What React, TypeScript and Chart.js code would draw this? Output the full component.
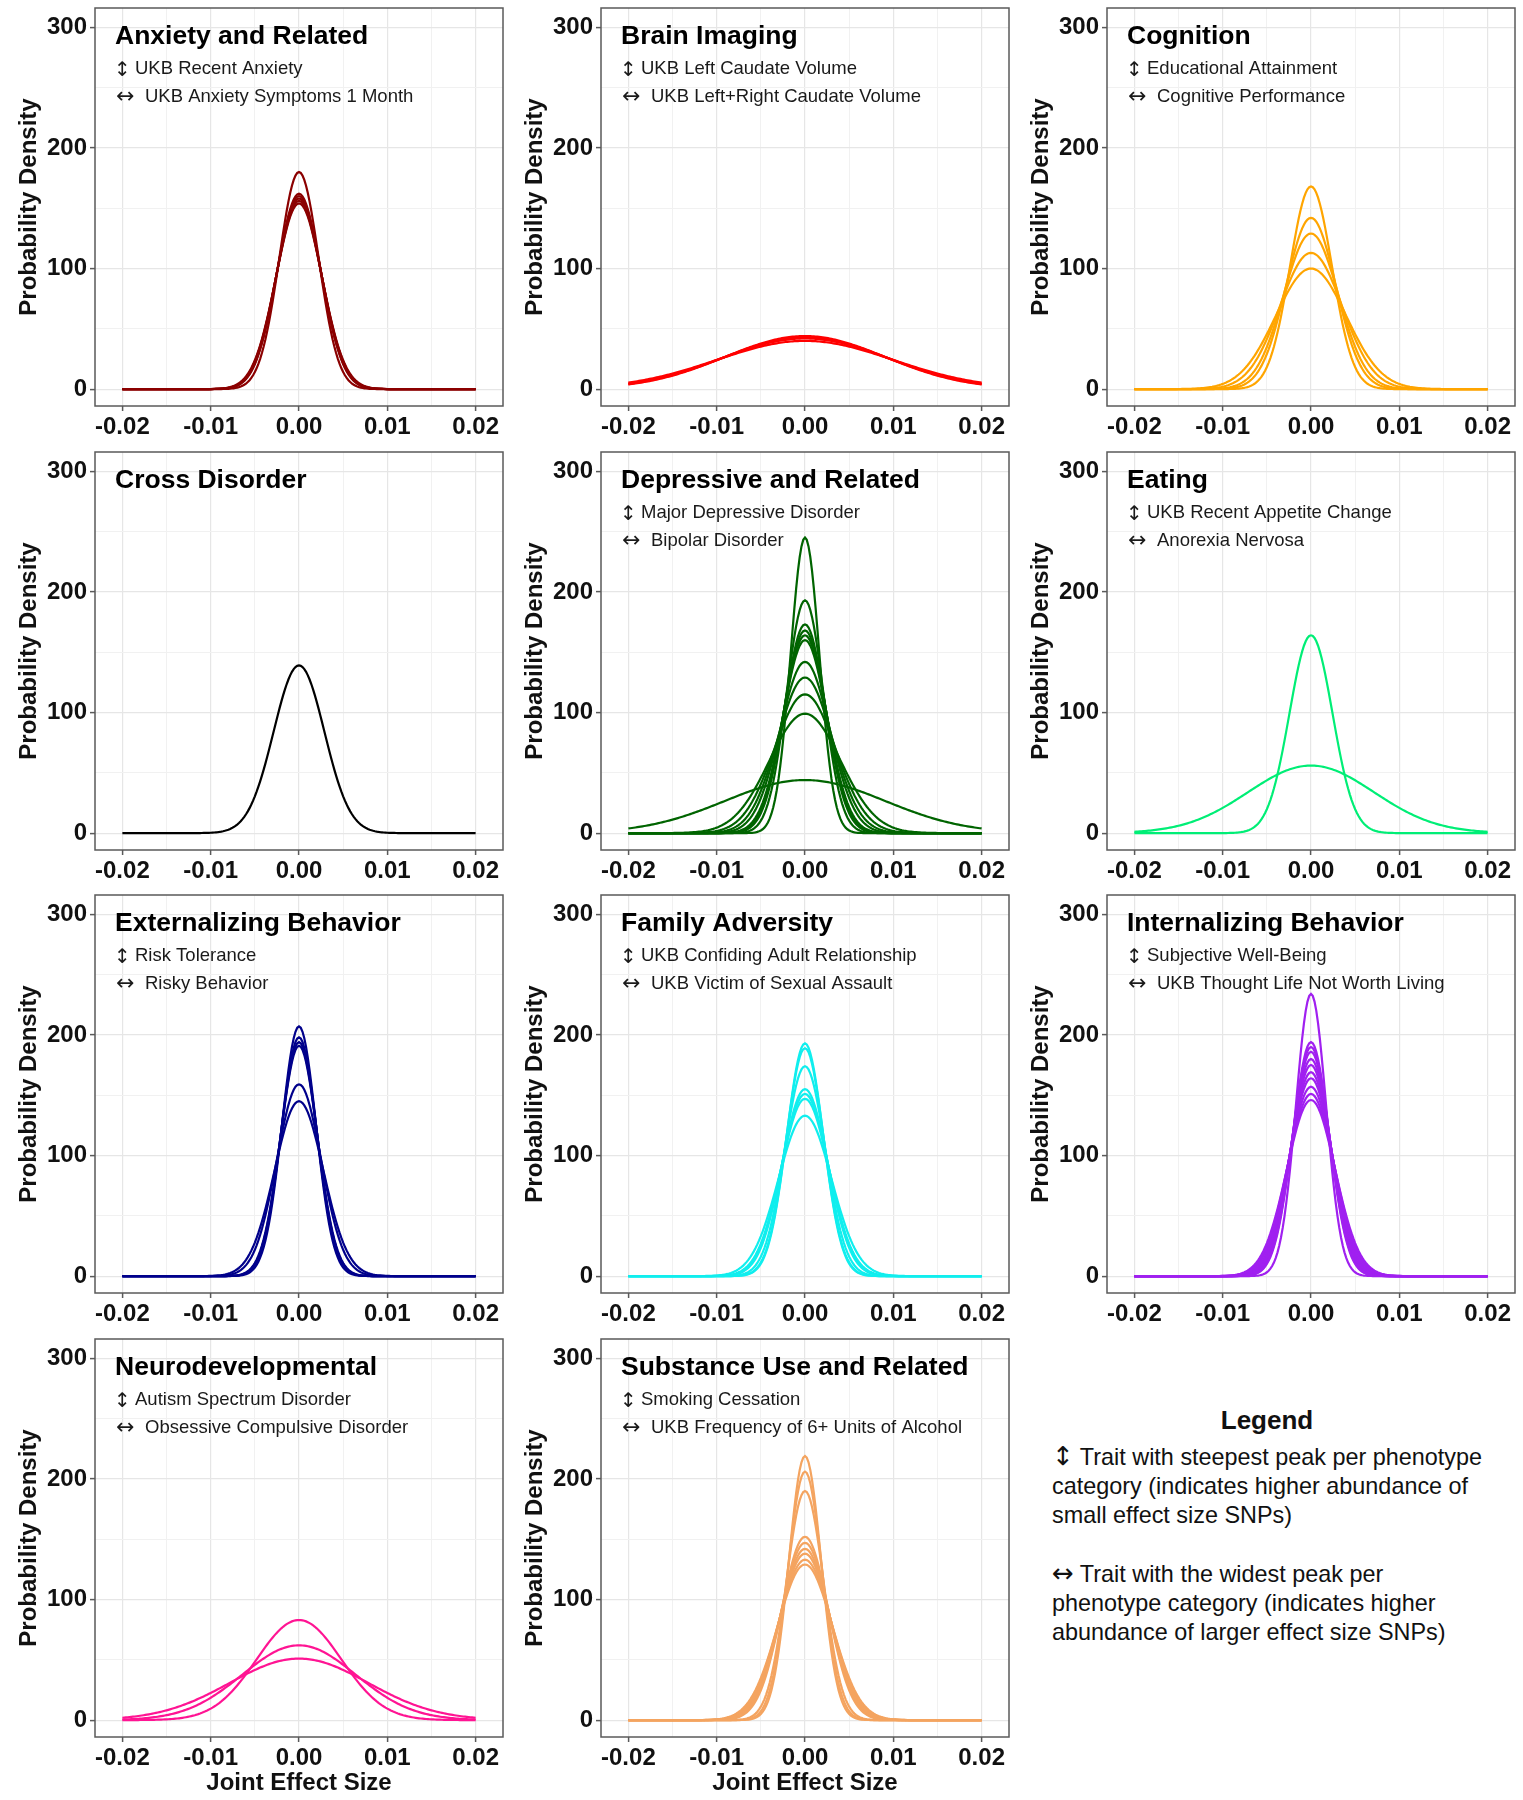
import React, { useEffect, useRef } from "react";
import { Chart, registerables } from "chart.js";

Chart.register(...registerables);

// ---------- data ----------
const panelTitles = [
  "Anxiety and Related",
  "Brain Imaging",
  "Cognition",
  "Cross Disorder",
  "Depressive and Related",
  "Eating",
  "Externalizing Behavior",
  "Family Adversity",
  "Internalizing Behavior",
  "Neurodevelopmental",
  "Substance Use and Related",
];

const steepestTraits = [
  "UKB Recent Anxiety",
  "UKB Left Caudate Volume",
  "Educational Attainment",
  "",
  "Major Depressive Disorder",
  "UKB Recent Appetite Change",
  "Risk Tolerance",
  "UKB Confiding Adult Relationship",
  "Subjective Well-Being",
  "Autism Spectrum Disorder",
  "Smoking Cessation",
];

const widestTraits = [
  "UKB Anxiety Symptoms 1 Month",
  "UKB Left+Right Caudate Volume",
  "Cognitive Performance",
  "",
  "Bipolar Disorder",
  "Anorexia Nervosa",
  "Risky Behavior",
  "UKB Victim of Sexual Assault",
  "UKB Thought Life Not Worth Living",
  "Obsessive Compulsive Disorder",
  "UKB Frequency of 6+ Units of Alcohol",
];

// Peak probability density of each trait's (normal) joint-effect-size distribution
const anxietyPeaks = [180, 162, 160, 158, 156, 154];
const brainImagingPeaks = [44, 43, 42, 40];
const cognitionPeaks = [168, 142, 129, 113, 100];
const crossDisorderPeaks = [139];
const depressivePeaks = [245, 193, 173, 168, 164, 160, 142, 129, 115, 99, 44];
const eatingPeaks = [164, 56];
const externalizingPeaks = [207, 198, 194, 191, 159, 145];
const familyAdversityPeaks = [193, 189, 174, 155, 151, 147, 133];
const internalizingPeaks = [234, 194, 190, 186, 180, 175, 169, 164, 157, 151, 146];
const neurodevelopmentalPeaks = [83, 62, 51];
const substanceUsePeaks = [219, 206, 190, 152, 147, 142, 138, 133, 129];

const panelPeaks = [
  anxietyPeaks,
  brainImagingPeaks,
  cognitionPeaks,
  crossDisorderPeaks,
  depressivePeaks,
  eatingPeaks,
  externalizingPeaks,
  familyAdversityPeaks,
  internalizingPeaks,
  neurodevelopmentalPeaks,
  substanceUsePeaks,
];

const panelColors = [
  "#8B0000",
  "#FF0000",
  "#FFA500",
  "#000000",
  "#006400",
  "#00EE76",
  "#00008B",
  "#10EEEE",
  "#A020F0",
  "#FF1493",
  "#F4A460",
];

const xMajorTicks = [-0.02, -0.01, 0, 0.01, 0.02];
const xMinorTicks = [-0.015, -0.005, 0.005, 0.015];
const yMajorTicks = [0, 100, 200, 300];
const yMinorTicks = [50, 150, 250];

const xAxisTitle = "Joint Effect Size";
const yAxisTitle = "Probability Density";

const steepArrow = "\u2195";
const wideArrow = "\u2194";

const legendTitle = "Legend";
const legendSteepLines = [
  "Trait with steepest peak per phenotype",
  "category (indicates higher abundance of",
  "small effect size SNPs)",
];
const legendWideLines = [
  "Trait with the widest peak per",
  "phenotype category (indicates higher",
  "abundance of larger effect size SNPs)",
];

// evaluation range of the density curves
const curveMin = -0.02;
const curveMax = 0.02;
const curveSamples = 201;

// ---------- helpers ----------
const FONT = '"Liberation Sans", Arial, Helvetica, sans-serif';
const ARROW_FONT = '"DejaVu Sans", sans-serif';
Chart.defaults.font.family = FONT;

function densityPoints(peak: number) {
  const pts: { x: number; y: number }[] = [];
  for (let i = 0; i < curveSamples; i++) {
    const x = curveMin + ((curveMax - curveMin) * i) / (curveSamples - 1);
    // normal density with sd = 1/(peak*sqrt(2*pi))
    pts.push({ x, y: peak * Math.exp(-Math.PI * peak * peak * x * x) });
  }
  return pts;
}

const isMajorX = (v: number) => xMajorTicks.some((t) => Math.abs(t - v) < 1e-9);
const isMajorY = (v: number) => yMajorTicks.some((t) => Math.abs(t - v) < 1e-9);

type PanelProps = {
  index: number;
  left: number;
  top: number;
  width: number;
  height: number;
  showXTitle: boolean;
};

function Panel({ index, left, top, width, height, showXTitle }: PanelProps) {
  const ref = useRef<HTMLCanvasElement | null>(null);

  useEffect(() => {
    const canvas = ref.current;
    if (!canvas) return;
    const title = panelTitles[index];
    const sub1 = steepestTraits[index];
    const sub2 = widestTraits[index];
    const color = panelColors[index];
    const plotBottom = 406;

    const decor = {
      id: "panelDecor",
      afterDatasetsDraw(chart: any) {
        const { ctx, chartArea: a } = chart;
        ctx.save();
        ctx.strokeStyle = "#5a5a5a";
        ctx.lineWidth = 1.5;
        ctx.strokeRect(a.left, a.top, a.right - a.left, a.bottom - a.top);
        ctx.textAlign = "left";
        ctx.textBaseline = "alphabetic";
        ctx.fillStyle = "#000";
        ctx.font = `bold 26.5px ${FONT}`;
        ctx.fillText(title, a.left + 20, a.top + 36);
        ctx.fillStyle = "#1a1a1a";
        if (sub1) {
          ctx.font = `20px ${ARROW_FONT}`;
          ctx.fillText(steepArrow, a.left + 19, a.top + 68);
          ctx.font = `18.5px ${FONT}`;
          ctx.fillText(sub1, a.left + 40, a.top + 66);
        }
        if (sub2) {
          ctx.font = `22px ${ARROW_FONT}`;
          ctx.fillText(wideArrow, a.left + 21, a.top + 95);
          ctx.font = `18.5px ${FONT}`;
          ctx.fillText(sub2, a.left + 50, a.top + 94);
        }
        ctx.restore();
      },
    };

    const chart = new Chart(canvas, {
      type: "line",
      data: {
        datasets: panelPeaks[index].map((p) => ({
          data: densityPoints(p),
          borderColor: color,
          borderWidth: 2.2,
          pointRadius: 0,
          tension: 0,
          fill: false,
        })),
      },
      options: {
        animation: false,
        responsive: false,
        maintainAspectRatio: false,
        events: [],
        layout: { padding: { top: 8, right: 3, left: 0, bottom: 0 } },
        plugins: {
          legend: { display: false },
          tooltip: { enabled: false },
          title: { display: false },
        },
        scales: {
          x: {
            type: "linear",
            min: -0.0231,
            max: 0.0231,
            afterBuildTicks: (s: any) => {
              s.ticks = [...xMajorTicks, ...xMinorTicks]
                .sort((a, b) => a - b)
                .map((v) => ({ value: v }));
            },
            afterFit: (s: any) => {
              s.height = height - plotBottom;
              s.paddingLeft = 0;
              s.paddingRight = 0;
            },
            ticks: {
              autoSkip: false,
              maxRotation: 0,
              padding: 2,
              color: "#111",
              font: { size: 24, weight: "bold", family: FONT },
              callback: (v: any) => (isMajorX(Number(v)) ? Number(v).toFixed(2) : ""),
            },
            grid: {
              drawTicks: true,
              tickLength: 5,
              tickWidth: 1.5,
              tickColor: (c: any) => (c.tick && isMajorX(c.tick.value) ? "#5a5a5a" : "rgba(0,0,0,0)"),
              color: (c: any) => (c.tick && isMajorX(c.tick.value) ? "#e6e6e6" : "#f1f1f1"),
              lineWidth: (c: any) => (c.tick && isMajorX(c.tick.value) ? 1.2 : 1),
            },
            border: { display: false },
            title: {
              display: showXTitle,
              text: xAxisTitle,
              color: "#111",
              font: { size: 24, weight: "bold", family: FONT },
              padding: { top: 0, bottom: 2 },
            },
          },
          y: {
            type: "linear",
            min: -14,
            max: 316,
            afterBuildTicks: (s: any) => {
              s.ticks = [...yMajorTicks, ...yMinorTicks]
                .sort((a, b) => a - b)
                .map((v) => ({ value: v }));
            },
            afterFit: (s: any) => {
              s.width = 95;
              s.paddingTop = 0;
              s.paddingBottom = 0;
            },
            ticks: {
              padding: 3,
              color: "#111",
              font: { size: 24, weight: "bold", family: FONT },
              callback: (v: any) => (isMajorY(Number(v)) ? String(v) : ""),
            },
            grid: {
              drawTicks: true,
              tickLength: 5,
              tickWidth: 1.5,
              tickColor: (c: any) => (c.tick && isMajorY(c.tick.value) ? "#5a5a5a" : "rgba(0,0,0,0)"),
              color: (c: any) => (c.tick && isMajorY(c.tick.value) ? "#e6e6e6" : "#f1f1f1"),
              lineWidth: (c: any) => (c.tick && isMajorY(c.tick.value) ? 1.2 : 1),
            },
            border: { display: false },
            title: {
              display: true,
              text: yAxisTitle,
              color: "#111",
              font: { size: 24, weight: "bold", family: FONT },
              padding: { top: 15, bottom: 0 },
            },
          },
        },
      } as any,
      plugins: [decor],
    });
    return () => chart.destroy();
  }, [index, width, height, showXTitle]);

  return (
    <canvas
      ref={ref}
      width={width}
      height={height}
      style={{ position: "absolute", left, top, width, height, display: "block" }}
    />
  );
}

export default function App() {
  const colW = 506;
  const rowTops = [0, 444, 887, 1331];
  const rowHeights = [444, 443, 444, 469];
  const panels = panelTitles.map((_, i) => {
    const col = i % 3;
    const row = Math.floor(i / 3);
    return (
      <Panel
        key={i}
        index={i}
        left={col * colW}
        top={rowTops[row]}
        width={colW}
        height={rowHeights[row]}
        showXTitle={row === 3}
      />
    );
  });

  const lineStyle: React.CSSProperties = {
    fontFamily: FONT,
    fontSize: 23.4,
    lineHeight: "29px",
    color: "#111",
    whiteSpace: "pre",
  };
  const arrowStyle: React.CSSProperties = {
    fontFamily: ARROW_FONT,
    fontSize: 26,
    lineHeight: "1px",
  };

  return (
    <div
      style={{
        position: "absolute",
        left: 0,
        top: 0,
        width: 1523,
        height: 1800,
        background: "#fff",
        overflow: "hidden",
      }}
    >
      {panels}
      <div
        style={{
          position: "absolute",
          left: 1052,
          top: 1405,
          width: 430,
          textAlign: "center",
          fontFamily: FONT,
          fontWeight: "bold",
          fontSize: 26,
          lineHeight: "30px",
          color: "#111",
        }}
      >
        {legendTitle}
      </div>
      <div style={{ position: "absolute", left: 1052, top: 1443, ...lineStyle }}>
        {legendSteepLines.map((l, i) => (
          <div key={i}>
            {i === 0 ? <span style={arrowStyle}>{steepArrow}</span> : null}
            {i === 0 ? " " + l : l}
          </div>
        ))}
      </div>
      <div style={{ position: "absolute", left: 1052, top: 1560, ...lineStyle }}>
        {legendWideLines.map((l, i) => (
          <div key={i}>
            {i === 0 ? <span style={arrowStyle}>{wideArrow}</span> : null}
            {i === 0 ? " " + l : l}
          </div>
        ))}
      </div>
    </div>
  );
}
